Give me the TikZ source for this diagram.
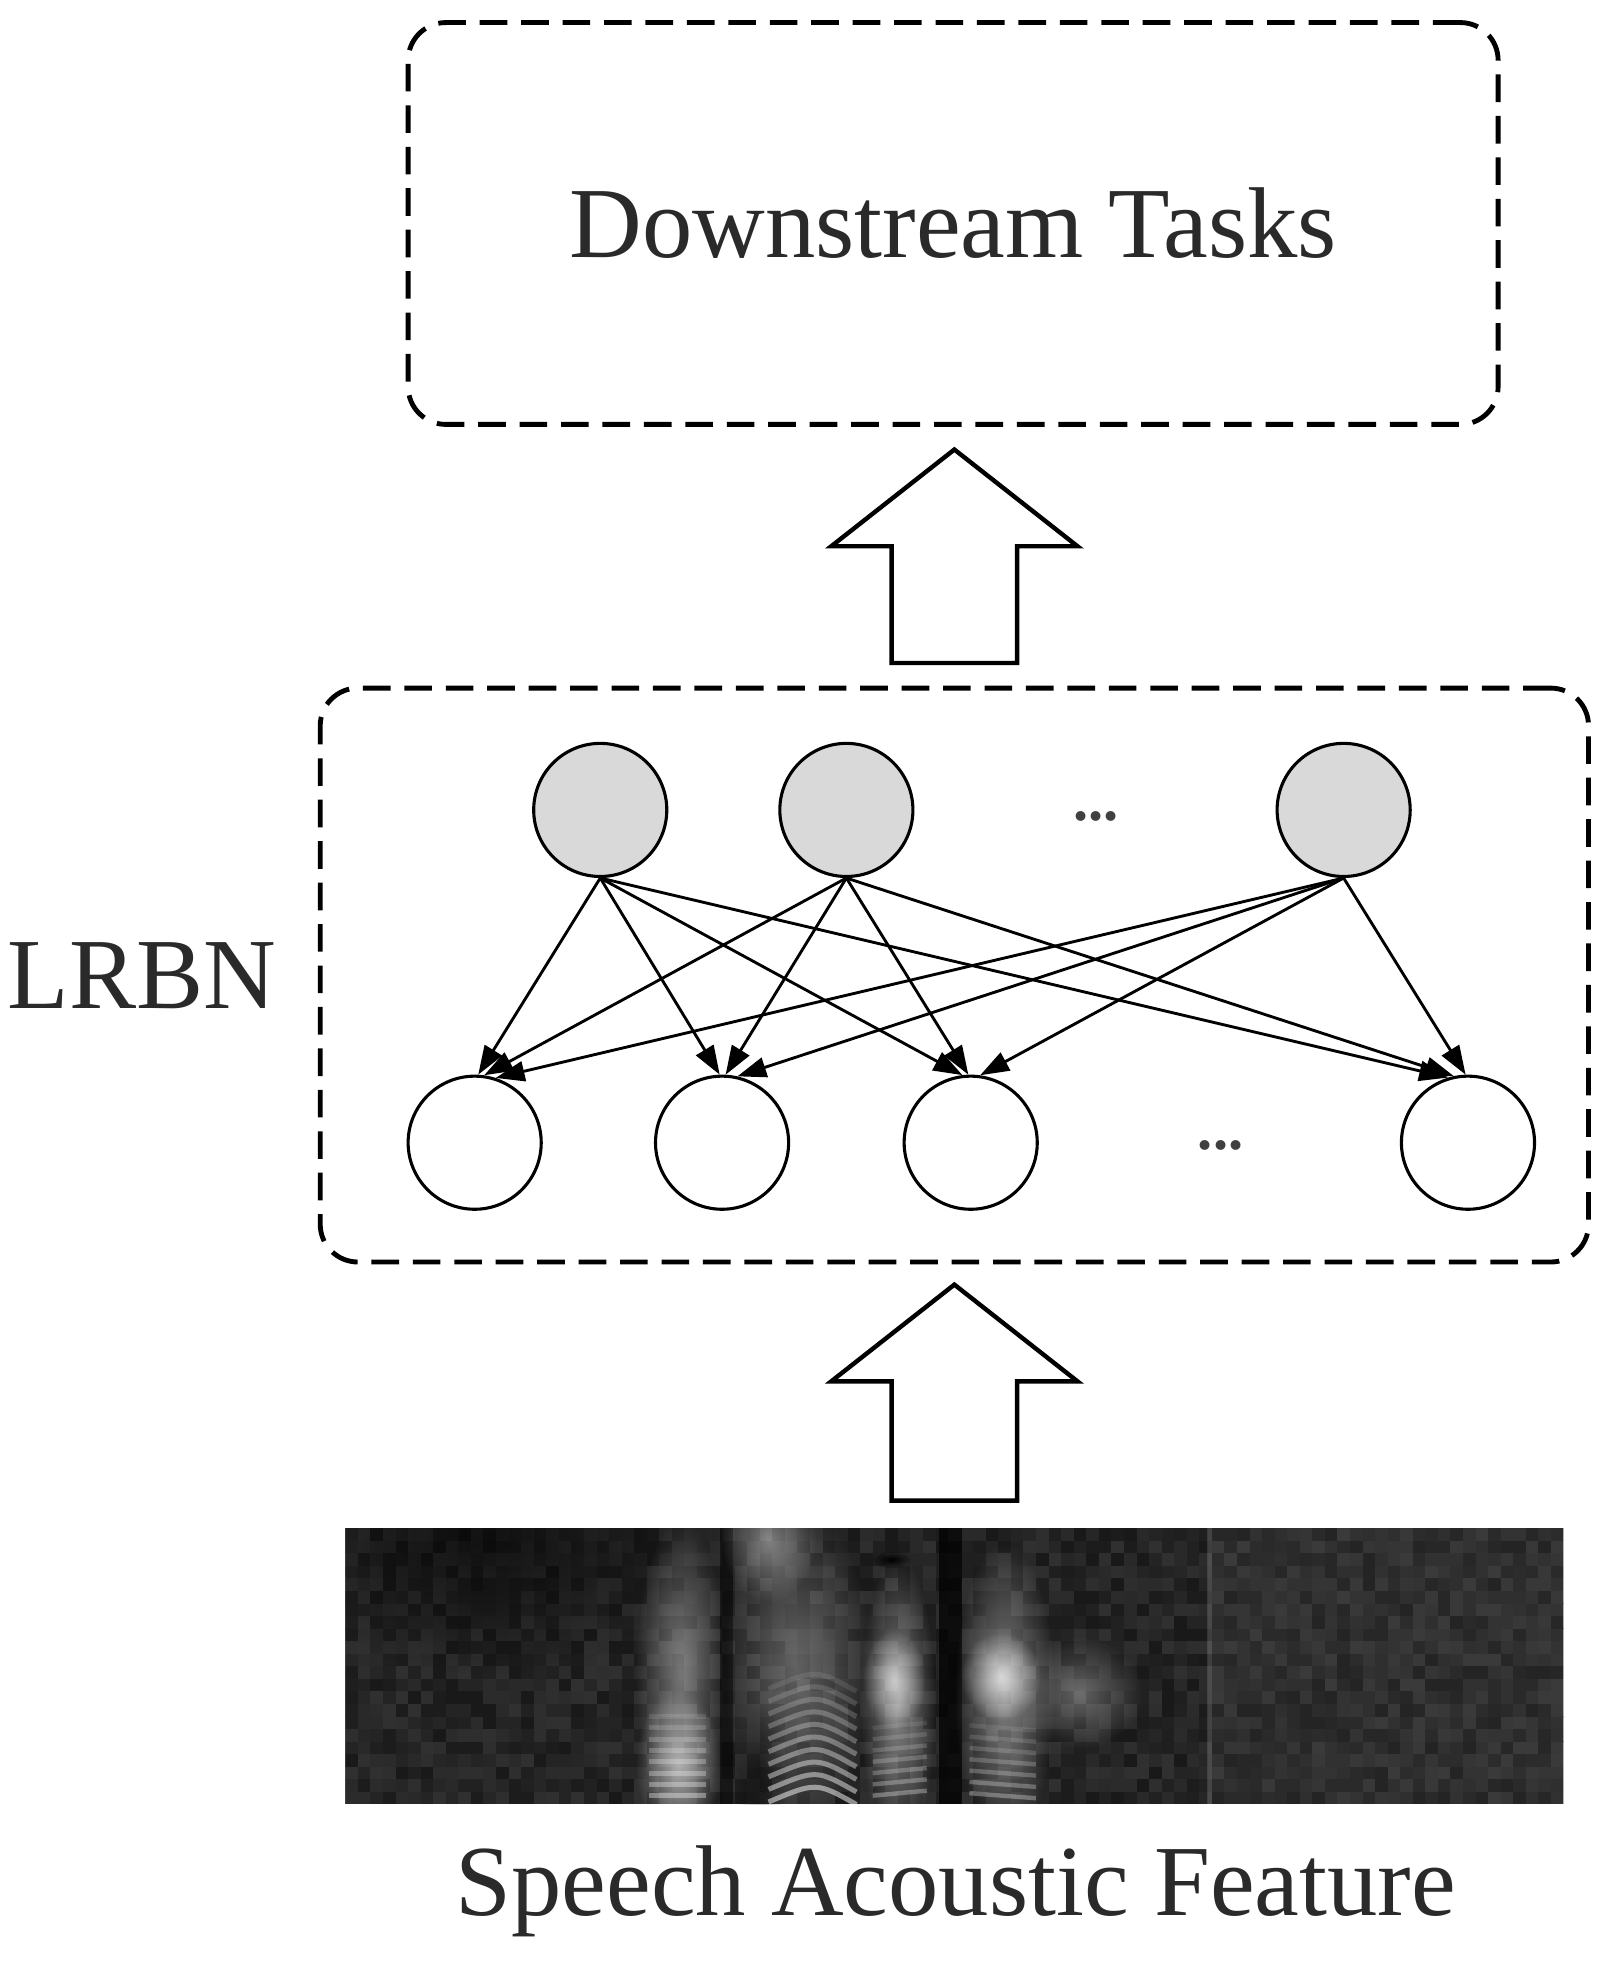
\documentclass[tikz,border=0pt]{standalone}
\usepackage{fontspec}
\setmainfont{Liberation Serif}
\usetikzlibrary{arrows.meta,fadings}
\definecolor{hidfill}{HTML}{D9D9D9}
\definecolor{labelgray}{HTML}{2A2A2A}
\definecolor{dotgray}{HTML}{404040}
\tikzset{
  dashbox/.style={draw, dash pattern=on 0.22cm off 0.11cm, line width=1.1pt,
    rounded corners=0.3cm, inner sep=0pt},
  hidnode/.style={circle, draw, fill=hidfill, minimum size=1.06cm, inner sep=0pt, line width=0.7pt},
  visnode/.style={circle, draw, fill=white, minimum size=1.06cm, inner sep=0pt, line width=0.7pt},
  wire/.style={-{Triangle[length=0.23cm,width=0.16cm]}, line width=0.65pt},
  fatarrow/.style={draw, line width=1pt, line join=miter, fill=white},
  bigtext/.style={font=\fontsize{22.8}{27}\selectfont, text=labelgray},
  ellip/.style={font=\fontsize{13.7}{16}\selectfont\bfseries, text=dotgray, inner sep=0pt},
}
\tikzfading[name=softspot, inner color=transparent!0, outer color=transparent!100]

\begin{document}
\begin{tikzpicture}[line width=0.6pt]
\useasboundingbox (0,0) rectangle (12.8,15.68);

% downstream block
\node[dashbox, bigtext, minimum width=8.68cm, minimum height=3.2cm] (tasks) at (7.59,13.90) {Downstream Tasks};
\draw[fatarrow] (7.10,10.40) -- (7.10,11.33) -- (6.62,11.33) -- (7.60,12.10) -- (8.58,11.33) -- (8.10,11.33) -- (8.10,10.40) -- cycle;

% LRBN block
\node[dashbox, minimum width=10.10cm, minimum height=4.57cm] (lrbn) at (7.60,7.915) {};
\node[bigtext] (lrbnlabel) at (1.13,7.91) {LRBN};
\foreach \i/\tx in {1/4.78,2/6.74,3/10.70}
  \node[hidnode] (t\i) at (\tx,9.23) {};
\foreach \j/\bx in {1/3.78,2/5.75,3/7.73,4/11.69}
  \node[visnode] (b\j) at (\bx,6.58) {};
\node[ellip] (tdots) at (8.73,9.18) {...};
\node[ellip] (bdots) at (9.72,6.56) {...};
\foreach \i/\tx in {1/4.78,2/6.74,3/10.70}
  \foreach \j/\bx in {1/3.78,2/5.75,3/7.73,4/11.69}
  {\pgfmathtruncatemacro\ang{90-2.5*(\tx-\bx)}
   \draw[wire] (t\i.south) -- (b\j.\ang);}

\draw[fatarrow] (7.10,3.73) -- (7.10,4.68) -- (6.62,4.68) -- (7.60,5.45) -- (8.58,4.68) -- (8.10,4.68) -- (8.10,3.73) -- cycle;

% spectrogram
\node[minimum width=9.70cm, minimum height=2.20cm, inner sep=0pt, outer sep=0pt] (spec) at (7.60,2.41) {};
\begin{scope}
\clip (spec.south west) rectangle (spec.north east);
\fill[black!87] (spec.south west) rectangle (spec.north east);
\pgfmathsetseed{42}
\foreach \c in {0,...,96}
  \foreach \r in {0,...,21}
  {\pgfmathtruncatemacro\g{81+10*rnd}
   \fill[black!\g] ({2.75+\c*0.1},{1.31+\r*0.1}) rectangle +(0.102,0.102);}
\fill[black, path fading=softspot, fill opacity=0.6] (3.90,3.45) ellipse (1.8 and 1.1);
\fill[white, opacity=0.05] (9.62,1.31) rectangle (12.45,3.51);
\draw[white, opacity=0.12, line width=0.04cm] (9.63,1.31) -- (9.63,3.51);
% band A
\fill[white, path fading=softspot, fill opacity=0.4] (5.42,2.35) ellipse (0.36 and 1.25);
\fill[white, path fading=softspot, fill opacity=0.55] (5.40,1.62) ellipse (0.34 and 0.6);
\foreach \k in {0,...,7}
  {\pgfmathsetmacro\op{0.35-0.035*\k}
   \draw[white, draw opacity=\op, line width=0.04cm] (5.17,{1.38+0.09*\k}) -- (5.62,{1.38+0.09*\k});}
\fill[black, opacity=0.5] (5.73,1.31) rectangle (5.84,3.51);
% band B
\fill[white, path fading=softspot, fill opacity=0.4] (6.12,3.42) ellipse (0.38 and 0.5);
\fill[white, path fading=softspot, fill opacity=0.3] (6.35,2.40) ellipse (0.6 and 1.3);
\fill[black, path fading=softspot, fill opacity=0.45] (6.05,1.60) ellipse (0.22 and 0.5);
\foreach \k in {0,...,9}
  {\pgfmathsetmacro\yy{1.37+0.1*\k}
   \pgfmathsetmacro\op{0.5-0.045*\k}
   \draw[white, draw opacity=\op, line width=0.04cm] (6.12,{\yy-0.04}) .. controls (6.50,{\yy+0.12}) .. (6.82,{\yy-0.06});}
% band C
\fill[white, path fading=softspot, fill opacity=0.45] (7.15,2.10) ellipse (0.3 and 1.2);
\fill[white, path fading=softspot, fill opacity=0.6] (7.12,2.30) ellipse (0.25 and 0.4);
\foreach \k in {0,...,6}
  {\pgfmathsetmacro\op{0.3-0.035*\k}
   \draw[white, draw opacity=\op, line width=0.035cm] (6.95,{1.38+0.09*\k}) -- (7.38,{1.42+0.09*\k});}
\fill[black, path fading=softspot] (7.10,3.26) ellipse (0.16 and 0.07);
\fill[black, opacity=0.7] (7.48,1.31) rectangle (7.66,3.51);
% band D
\fill[white, path fading=softspot, fill opacity=0.45] (8.00,2.20) ellipse (0.4 and 1.2);
\fill[white, path fading=softspot, fill opacity=0.7] (7.97,2.33) ellipse (0.32 and 0.35);
\fill[white, path fading=softspot, fill opacity=0.3] (8.60,2.20) ellipse (0.5 and 0.45);
\foreach \k in {0,...,6}
  {\pgfmathsetmacro\op{0.3-0.035*\k}
   \draw[white, draw opacity=\op, line width=0.035cm] (7.72,{1.40+0.09*\k}) -- (8.25,{1.36+0.09*\k});}
\end{scope}
\node[bigtext, anchor=base] (speclabel) at (7.61,0.43) {Speech Acoustic Feature};
\end{tikzpicture}
\end{document}
